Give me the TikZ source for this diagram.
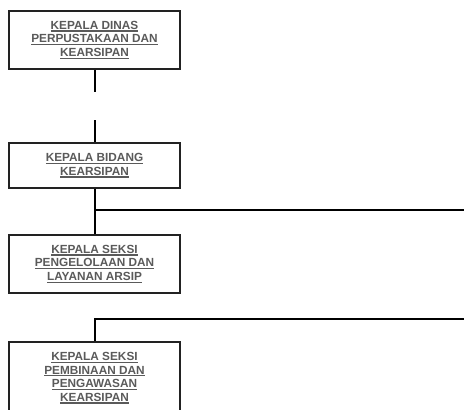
\documentclass[tikz,border=0pt]{standalone}
\usepackage{fontspec}
\setmainfont{Liberation Sans}
\definecolor{txtgray}{HTML}{5A5A5A}
\definecolor{boxline}{HTML}{222222}
\newcommand\ulx[1]{\setbox0\hbox{#1}\rlap{\raisebox{-2.3pt}{\rule{\wd0}{1.2pt}}}\box0}
\tikzset{
  orgbox/.style={draw=boxline, line width=1.3pt, minimum width=171pt, inner sep=0pt,
    font=\fontsize{11.8}{13.6}\selectfont\bfseries, text=txtgray, align=center},
  conn/.style={line width=2pt, black}
}
\begin{document}
\begin{tikzpicture}[x=1pt,y=-1pt]
\useasboundingbox (0,0) rectangle (464,410);
\clip (0,0) rectangle (464,410);
\node[orgbox, minimum height=58pt] (b1) at (94.5,40) {\ulx{KEPALA DINAS}\\\ulx{PERPUSTAKAAN DAN}\\\ulx{KEARSIPAN}};
\node[orgbox, minimum height=45pt] (b2) at (94.5,165.5) {\ulx{KEPALA BIDANG}\\\ulx{KEARSIPAN}};
\node[orgbox, minimum height=58pt] (b3) at (94.5,264) {\ulx{KEPALA SEKSI}\\\ulx{PENGELOLAAN DAN}\\\ulx{LAYANAN ARSIP}};
\node[orgbox, minimum height=72pt] (b4) at (94.5,378) {\ulx{KEPALA SEKSI}\\\ulx{PEMBINAAN DAN}\\\ulx{PENGAWASAN}\\\ulx{KEARSIPAN}};
\coordinate (c1) at (95,92);
\coordinate (c2) at (95,120);
\coordinate (j1) at (95,210);
\coordinate (e1) at (464,210);
\coordinate (j2) at (95,319);
\coordinate (e2) at (464,319);
\draw[conn] (b1.south -| c1) -- (c1);
\draw[conn] (c2) -- (b2.north -| c2);
\draw[conn] (b2.south -| c2) -- (b3.north -| c2);
\draw[conn] (j1) -- (e1);
\draw[conn] (e2) -- (j2) -- (b4.north -| j2);
\end{tikzpicture}
\end{document}
